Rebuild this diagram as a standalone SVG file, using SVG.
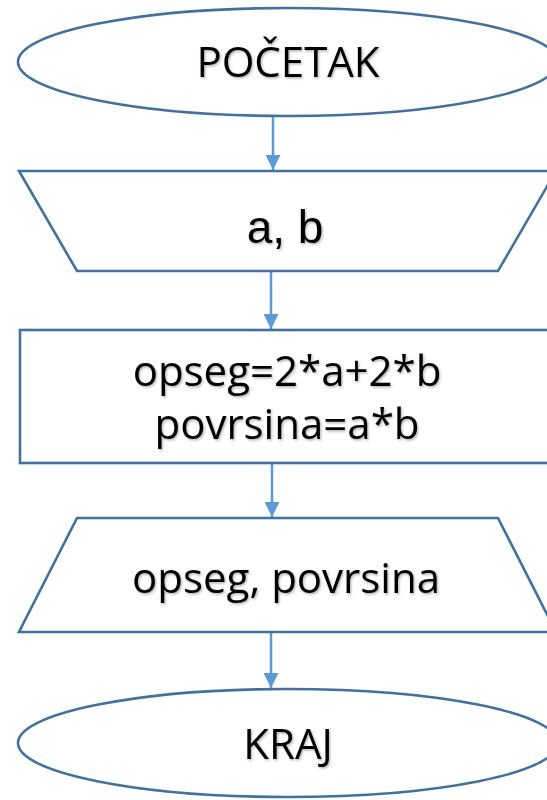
<svg xmlns="http://www.w3.org/2000/svg" width="547" height="800" viewBox="0 0 547 800">
  <defs>
    <style>
      .shape { fill: #ffffff; stroke: #41719C; stroke-width: 2.6; }
      .conn { stroke: #5B9BD5; stroke-width: 2.5; fill: none; }
      .lbl { font-family: "Open Sans", "Noto Sans", sans-serif; font-size: 42px; fill: #000000; text-anchor: middle; filter: url(#shadow); }
      .lbl2 { font-family: "Liberation Sans", Arial, sans-serif; font-size: 46px; fill: #000000; text-anchor: middle; filter: url(#shadow); }
    </style>
    <filter id="shadow" x="-10%" y="-20%" width="120%" height="150%">
      <feDropShadow dx="1.2" dy="1.5" stdDeviation="1" flood-color="#000000" flood-opacity="0.3"/>
    </filter>
    <marker id="arrow" viewBox="0 0 15 15" refX="15" refY="7.5" markerWidth="15" markerHeight="15" markerUnits="userSpaceOnUse" orient="auto">
      <path d="M0,0 L15,7.5 L0,15 z" fill="#5B9BD5"/>
    </marker>
  </defs>
  <rect width="547" height="800" fill="#ffffff"/>

  <g id="connectors">
    <line class="conn" x1="273" y1="116" x2="273" y2="170" marker-end="url(#arrow)"/>
    <line class="conn" x1="271" y1="272" x2="271" y2="329" marker-end="url(#arrow)"/>
    <line class="conn" x1="272" y1="464" x2="272" y2="517" marker-end="url(#arrow)"/>
    <line class="conn" x1="271" y1="633" x2="271" y2="688" marker-end="url(#arrow)"/>
  </g>

  <g id="start">
    <ellipse class="shape" cx="288" cy="62" rx="270" ry="54"/>
    <text class="lbl" x="288" y="77">POČETAK</text>
  </g>

  <g id="input">
    <polygon class="shape" points="19,171 556,171 498,271 77,271"/>
    <text class="lbl2" x="285" y="243">a, b</text>
  </g>

  <g id="process">
    <rect class="shape" x="20" y="330" width="560" height="133"/>
    <text class="lbl" x="287" y="386">opseg=2*a+2*b</text>
    <text class="lbl" x="287" y="439">povrsina=a*b</text>
  </g>

  <g id="output">
    <polygon class="shape" points="77,518 498,518 556,632 19,632"/>
    <text class="lbl" x="286" y="593">opseg, povrsina</text>
  </g>

  <g id="end">
    <ellipse class="shape" cx="288" cy="743" rx="270" ry="54"/>
    <text class="lbl" x="288" y="759">KRAJ</text>
  </g>
</svg>
